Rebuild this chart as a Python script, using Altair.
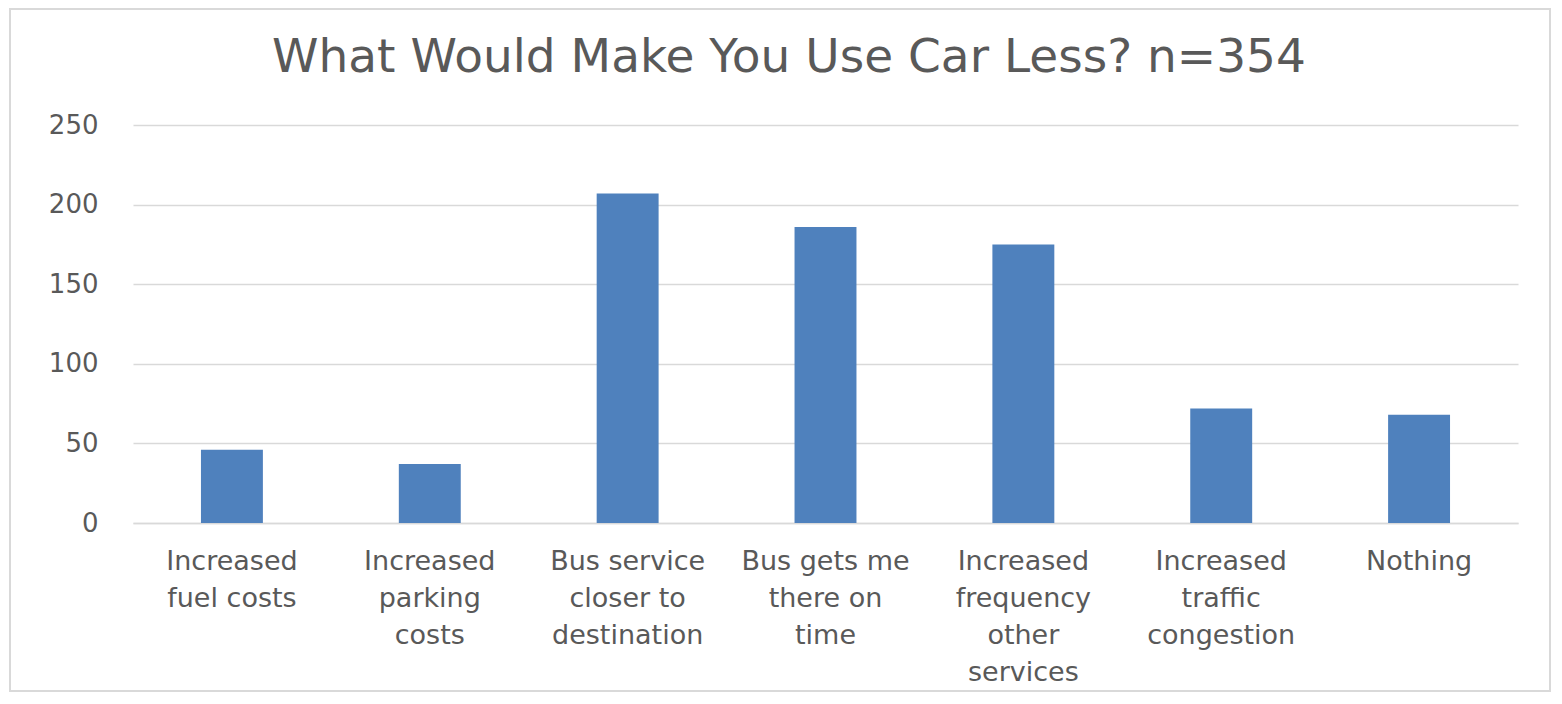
import altair as alt
import pandas as pd

categories = [
    "Increased\nfuel costs",
    "Increased\nparking\ncosts",
    "Bus service\ncloser to\ndestination",
    "Bus gets me\nthere on\ntime",
    "Increased\nfrequency\nother\nservices",
    "Increased\ntraffic\ncongestion",
    "Nothing",
]
counts = [46, 37, 207, 186, 175, 72, 68]
y_ticks = [0, 50, 100, 150, 200, 250]
title_text = ["What Would Make You Use Car Less? n=354"]

df = pd.DataFrame({"category": categories, "count": counts})
df_title = pd.DataFrame({"t": title_text})

FONT = "DejaVu Sans"
GRAY = "#595959"
GRID = "#d9d9d9"

W, H = 1385, 398
PAD_L, PAD_T, PAD_R, PAD_B = 125, 117, 34, 169

bars = alt.Chart(df).mark_bar(color="#4F81BD").encode(
    x=alt.X(
        "category:N",
        sort=categories,
        scale=alt.Scale(paddingInner=0.687, paddingOuter=0.3435),
        axis=alt.Axis(
            title=None,
            labelAngle=0,
            labelExpr="split(datum.label, '\\n')",
            labelFont=FONT,
            labelFontSize=27,
            labelColor=GRAY,
            labelLineHeight=37,
            labelBaseline="top",
            labelPadding=25,
            ticks=False,
            tickSize=0,
            domainColor=GRID,
            domainWidth=1.5,
            labelLimit=400,
        ),
    ),
    y=alt.Y(
        "count:Q",
        scale=alt.Scale(domain=[0, 250], nice=False),
        axis=alt.Axis(
            title=None,
            values=y_ticks,
            labelFont=FONT,
            labelFontSize=26,
            labelColor=GRAY,
            labelPadding=35,
            ticks=False,
            domain=False,
            gridColor=GRID,
            gridWidth=1.5,
        ),
    ),
)

frame = alt.Chart(df).mark_rect(
    fill=None, stroke=GRID, strokeWidth=2, clip=False
).encode(
    x=alt.value(-PAD_L + 2),
    x2=alt.value(W + PAD_R - 2),
    y=alt.value(-PAD_T + 1),
    y2=alt.value(H + PAD_B - 1),
)

title = alt.Chart(df_title).mark_text(
    font=FONT,
    fontSize=47,
    color=GRAY,
    align="center",
    baseline="alphabetic",
    clip=False,
).encode(
    text="t:N",
    x=alt.value(656),
    y=alt.value(-53),
)

chart = alt.layer(frame, bars, title).properties(
    width=W,
    height=H,
    autosize=alt.AutoSizeParams(type="none"),
    padding={"left": PAD_L, "top": PAD_T, "right": PAD_R, "bottom": PAD_B},
).configure_view(stroke=None)

chart.save("out.html", embed_options={"renderer": "svg", "actions": False})
